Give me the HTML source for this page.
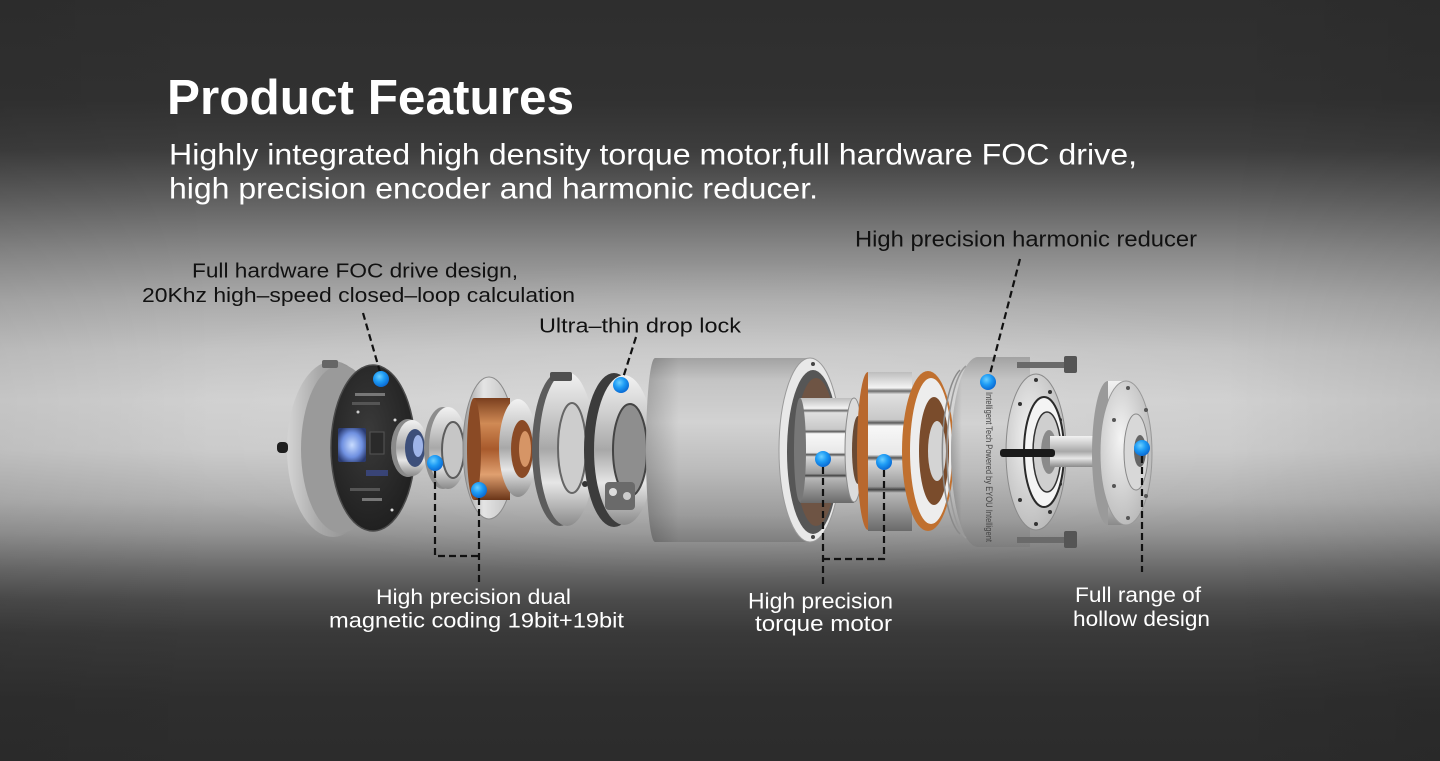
<!DOCTYPE html>
<html><head><meta charset="utf-8">
<style>
html,body{margin:0;padding:0;background:#2e2e2e;}
body{width:1440px;height:761px;overflow:hidden;}
svg{display:block;}
text{font-family:"Liberation Sans",sans-serif;}
</style></head>
<body>
<svg width="1440" height="761" viewBox="0 0 1440 761" xmlns="http://www.w3.org/2000/svg">
<defs>
  <linearGradient id="bg" x1="0" y1="0" x2="0" y2="1">
    <stop offset="0" stop-color="#2e2e2e"/>
    <stop offset="0.131" stop-color="#313131"/>
    <stop offset="0.197" stop-color="#3d3d3d"/>
    <stop offset="0.263" stop-color="#616161"/>
    <stop offset="0.329" stop-color="#888888"/>
    <stop offset="0.394" stop-color="#aaaaaa"/>
    <stop offset="0.46" stop-color="#c3c3c3"/>
    <stop offset="0.526" stop-color="#cfcfcf"/>
    <stop offset="0.591" stop-color="#c9c9c9"/>
    <stop offset="0.657" stop-color="#b0b0b0"/>
    <stop offset="0.70" stop-color="#939393"/>
    <stop offset="0.745" stop-color="#6c6c6c"/>
    <stop offset="0.788" stop-color="#4b4b4b"/>
    <stop offset="0.832" stop-color="#393939"/>
    <stop offset="0.92" stop-color="#2e2e2e"/>
    <stop offset="1" stop-color="#2c2c2c"/>
  </linearGradient>
  <radialGradient id="glow" cx="0.5" cy="0.5" r="0.5">
    <stop offset="0" stop-color="#ffffff" stop-opacity="0.22"/>
    <stop offset="1" stop-color="#ffffff" stop-opacity="0"/>
  </radialGradient>
  <linearGradient id="vign" x1="0" y1="0" x2="1" y2="0">
    <stop offset="0" stop-color="#000" stop-opacity="0.05"/>
    <stop offset="0.15" stop-color="#000" stop-opacity="0"/>
    <stop offset="0.85" stop-color="#000" stop-opacity="0"/>
    <stop offset="1" stop-color="#000" stop-opacity="0.07"/>
  </linearGradient>
  <linearGradient id="silverV" x1="0" y1="0" x2="0" y2="1">
    <stop offset="0" stop-color="#f2f2f2"/>
    <stop offset="0.25" stop-color="#cfcfcf"/>
    <stop offset="0.5" stop-color="#a8a8a8"/>
    <stop offset="0.72" stop-color="#e6e6e6"/>
    <stop offset="1" stop-color="#8a8a8a"/>
  </linearGradient>
  <linearGradient id="silverH" x1="0" y1="0" x2="1" y2="0">
    <stop offset="0" stop-color="#9a9a9a"/>
    <stop offset="0.4" stop-color="#e4e4e4"/>
    <stop offset="1" stop-color="#bdbdbd"/>
  </linearGradient>
  <linearGradient id="hous" x1="0" y1="0" x2="1" y2="0">
    <stop offset="0" stop-color="#d4d4d4"/>
    <stop offset="0.35" stop-color="#a9a9a9"/>
    <stop offset="1" stop-color="#7e7e7e"/>
  </linearGradient>
  <linearGradient id="cyl" x1="0" y1="0" x2="0" y2="1">
    <stop offset="0" stop-color="#a2a2a2"/>
    <stop offset="0.12" stop-color="#c4c4c4"/>
    <stop offset="0.35" stop-color="#d2d2d2"/>
    <stop offset="0.6" stop-color="#bcbcbc"/>
    <stop offset="0.85" stop-color="#9c9c9c"/>
    <stop offset="1" stop-color="#7e7e7e"/>
  </linearGradient>
  <linearGradient id="cylL" x1="0" y1="0" x2="1" y2="0">
    <stop offset="0" stop-color="#000" stop-opacity="0.18"/>
    <stop offset="0.2" stop-color="#000" stop-opacity="0"/>
  </linearGradient>
  <linearGradient id="copper" x1="0" y1="0" x2="0" y2="1">
    <stop offset="0" stop-color="#7a3f1e"/>
    <stop offset="0.25" stop-color="#d08a55"/>
    <stop offset="0.5" stop-color="#a85a2c"/>
    <stop offset="0.75" stop-color="#e0a070"/>
    <stop offset="1" stop-color="#6a3518"/>
  </linearGradient>
  <linearGradient id="stripe" x1="0" y1="0" x2="0" y2="1">
    <stop offset="0" stop-color="#bdbdbd"/>
    <stop offset="0.1" stop-color="#f4f4f4"/>
    <stop offset="0.12" stop-color="#6a6a6a"/>
    <stop offset="0.14" stop-color="#e0e0e0"/>
    <stop offset="0.3" stop-color="#c8c8c8"/>
    <stop offset="0.32" stop-color="#5a5a5a"/>
    <stop offset="0.34" stop-color="#f8f8f8"/>
    <stop offset="0.52" stop-color="#e8e8e8"/>
    <stop offset="0.54" stop-color="#555"/>
    <stop offset="0.56" stop-color="#d8d8d8"/>
    <stop offset="0.72" stop-color="#9a9a9a"/>
    <stop offset="0.74" stop-color="#444"/>
    <stop offset="0.76" stop-color="#b8b8b8"/>
    <stop offset="0.9" stop-color="#8a8a8a"/>
    <stop offset="1" stop-color="#6a6a6a"/>
  </linearGradient>
  <radialGradient id="pcb" cx="0.45" cy="0.4" r="0.7">
    <stop offset="0" stop-color="#3a3a3a"/>
    <stop offset="1" stop-color="#1c1c1c"/>
  </radialGradient>
  <radialGradient id="chip" cx="0.5" cy="0.5" r="0.6">
    <stop offset="0" stop-color="#c8dcff"/>
    <stop offset="0.6" stop-color="#6f90e0"/>
    <stop offset="1" stop-color="#2a3a70"/>
  </radialGradient>
  <radialGradient id="dot" cx="0.4" cy="0.35" r="0.65">
    <stop offset="0" stop-color="#6ccfff"/>
    <stop offset="0.5" stop-color="#1e9cf5"/>
    <stop offset="1" stop-color="#0a6bd4"/>
  </radialGradient>
  <radialGradient id="face" cx="0.4" cy="0.4" r="0.7">
    <stop offset="0" stop-color="#f4f4f4"/>
    <stop offset="1" stop-color="#b4b4b4"/>
  </radialGradient>
</defs>

<!-- background -->
<rect width="1440" height="761" fill="url(#bg)"/>
<ellipse cx="720" cy="420" rx="620" ry="160" fill="url(#glow)"/>
<rect width="1440" height="761" fill="url(#vign)"/>

<!-- ===== Left end cap with PCB ===== -->
<ellipse cx="333" cy="449" rx="46" ry="88" fill="url(#hous)"/>
<ellipse cx="341" cy="449" rx="40" ry="84" fill="#9a9a9a"/>
<rect x="322" y="360" width="16" height="8" rx="2" fill="#666"/>
<rect x="277" y="442" width="11" height="11" rx="4" fill="#1e1e1e"/>
<ellipse cx="373" cy="448" rx="42" ry="83" fill="url(#pcb)" stroke="#4a4a4a" stroke-width="1.5"/>
<rect x="338" y="428" width="28" height="34" rx="2" fill="url(#chip)"/>
<rect x="370" y="432" width="14" height="22" fill="#2a2a2a" stroke="#555" stroke-width="1"/>
<rect x="355" y="393" width="30" height="3" fill="#777"/>
<rect x="352" y="402" width="28" height="3" fill="#555"/>
<rect x="362" y="498" width="20" height="3" fill="#777"/>
<rect x="350" y="488" width="30" height="3" fill="#555"/>
<rect x="366" y="470" width="22" height="6" fill="#3c4a88" opacity="0.8"/>
<circle cx="395" cy="420" r="1.5" fill="#ddd"/>
<circle cx="392" cy="510" r="1.5" fill="#ddd"/>
<circle cx="358" cy="412" r="1.5" fill="#ccc"/>

<!-- small bearing -->
<ellipse cx="408" cy="448" rx="17" ry="29" fill="#8a8a8a"/>
<ellipse cx="412" cy="448" rx="16" ry="28" fill="url(#silverV)"/>
<ellipse cx="415" cy="448" rx="10" ry="19" fill="#3d4f7a"/>
<ellipse cx="418" cy="446" rx="5" ry="11" fill="#9fb4e8"/>

<!-- ring 2 -->
<ellipse cx="443" cy="448" rx="19" ry="41" fill="#8c8c8c"/>
<ellipse cx="448" cy="448" rx="19" ry="41" fill="url(#silverV)"/>
<ellipse cx="453" cy="450" rx="11" ry="28" fill="#c6c6c6" stroke="#5c5c5c" stroke-width="2"/>

<!-- copper encoder -->
<ellipse cx="489" cy="448" rx="26" ry="71" fill="url(#silverH)" stroke="#8a8a8a" stroke-width="1"/>
<rect x="474" y="398" width="36" height="102" fill="url(#copper)"/>
<ellipse cx="474" cy="449" rx="7" ry="51" fill="#8a4a25"/>
<ellipse cx="518" cy="448" rx="19" ry="49" fill="url(#silverV)"/>
<ellipse cx="522" cy="449" rx="11" ry="29" fill="#8a4a25"/>
<ellipse cx="525" cy="449" rx="6" ry="18" fill="#d69566"/>

<!-- flange ring -->
<ellipse cx="560" cy="449" rx="28" ry="77" fill="#5c5c5c"/>
<ellipse cx="567" cy="449" rx="28" ry="77" fill="url(#silverV)"/>
<ellipse cx="572" cy="448" rx="14" ry="45" fill="#cdcdcd" stroke="#666" stroke-width="2"/>
<rect x="550" y="372" width="22" height="9" rx="2" fill="#505050"/>
<circle cx="585" cy="484" r="3" fill="#333"/>

<!-- brake / drop lock -->
<ellipse cx="614" cy="450" rx="30" ry="77" fill="#3c3c3c"/>
<ellipse cx="624" cy="450" rx="30" ry="75" fill="url(#silverV)"/>
<ellipse cx="630" cy="450" rx="17" ry="46" fill="#8e8e8e" stroke="#444" stroke-width="2"/>
<rect x="605" y="482" width="30" height="28" rx="4" fill="#6a6a6a"/>
<circle cx="613" cy="492" r="4" fill="#ddd"/>
<circle cx="627" cy="496" r="4" fill="#ccc"/>

<!-- big cylinder housing -->
<path d="M655 358 L810 358 L810 542 L655 542 A9 92 0 0 1 655 358 Z" fill="url(#cyl)"/>
<path d="M655 358 L810 358 L810 542 L655 542 A9 92 0 0 1 655 358 Z" fill="url(#cylL)"/>
<ellipse cx="810" cy="450" rx="31" ry="92" fill="#e8e8e8" stroke="#9a9a9a" stroke-width="1"/>
<ellipse cx="813" cy="452" rx="26" ry="82" fill="#565656"/>
<ellipse cx="816" cy="452" rx="21" ry="74" fill="#6e5444"/>
<circle cx="813" cy="364" r="2" fill="#444"/>
<circle cx="813" cy="537" r="2" fill="#444"/>

<!-- rotor -->
<rect x="800" y="398" width="54" height="105" fill="url(#stripe)"/>
<ellipse cx="800" cy="450" rx="6" ry="52" fill="#777"/>
<ellipse cx="854" cy="450" rx="9" ry="52" fill="#dcdcdc" stroke="#8a8a8a" stroke-width="1"/>
<ellipse cx="858" cy="450" rx="6" ry="34" fill="#6a4a34"/>

<!-- stator -->
<ellipse cx="868" cy="451" rx="11" ry="79" fill="#b8682e"/>
<rect x="868" y="372" width="44" height="159" fill="url(#stripe)"/>
<ellipse cx="928" cy="451" rx="26" ry="80" fill="#c0702f"/>
<ellipse cx="931" cy="451" rx="21" ry="73" fill="#ededed"/>
<ellipse cx="934" cy="451" rx="15" ry="54" fill="#7a4c2c"/>
<ellipse cx="937" cy="451" rx="9" ry="30" fill="#d4d4d4"/>

<!-- harmonic reducer -->
<path d="M978 357 L1030 357 L1030 547 L978 547 A27 95 0 0 1 978 357 Z" fill="url(#cyl)"/>
<ellipse cx="978" cy="452" rx="27" ry="95" fill="url(#cyl)"/>
<ellipse cx="978" cy="452" rx="27" ry="95" fill="url(#cylL)"/>
<path d="M960 370 A24 85 0 0 0 960 534" fill="none" stroke="#8a8a8a" stroke-width="1.5"/>
<path d="M966 366 A24 88 0 0 0 966 538" fill="none" stroke="#9a9a9a" stroke-width="1.5"/>
<text transform="translate(986,392) rotate(90)" font-size="9.5" fill="#444" textLength="150" lengthAdjust="spacingAndGlyphs">Intelligent Tech  Powered by EYOU Intelligent</text>
<!-- bolts -->
<rect x="1017" y="362" width="50" height="6" fill="#6a6a6a"/>
<rect x="1064" y="356" width="13" height="17" rx="2" fill="#555"/>
<rect x="1017" y="537" width="50" height="6" fill="#6a6a6a"/>
<rect x="1064" y="531" width="13" height="17" rx="2" fill="#555"/>
<ellipse cx="1036" cy="452" rx="30" ry="78" fill="url(#face)" stroke="#8a8a8a" stroke-width="1"/>
<g fill="#333">
  <circle cx="1036" cy="380" r="2"/><circle cx="1050" cy="392" r="2"/><circle cx="1060" cy="420" r="2"/>
  <circle cx="1063" cy="452" r="2"/><circle cx="1060" cy="484" r="2"/><circle cx="1050" cy="512" r="2"/>
  <circle cx="1036" cy="524" r="2"/><circle cx="1020" cy="500" r="2"/><circle cx="1020" cy="404" r="2"/>
</g>
<ellipse cx="1044" cy="452" rx="20" ry="55" fill="#f4f4f4" stroke="#2a2a2a" stroke-width="2"/>
<ellipse cx="1047" cy="452" rx="14" ry="40" fill="#cfcfcf" stroke="#333" stroke-width="1.5"/>
<ellipse cx="1049" cy="452" rx="8" ry="22" fill="#8a8a8a"/>
<!-- shaft -->
<rect x="1050" y="436" width="46" height="31" fill="url(#silverV)"/>
<rect x="1000" y="449" width="55" height="8" rx="3" fill="#1a1a1a"/>

<!-- hollow flange -->
<ellipse cx="1108" cy="453" rx="16" ry="72" fill="#9a9a9a"/>
<rect x="1108" y="381" width="18" height="144" fill="url(#silverV)"/>
<ellipse cx="1126" cy="453" rx="26" ry="72" fill="url(#face)" stroke="#999" stroke-width="1"/>
<ellipse cx="1136" cy="452" rx="12" ry="38" fill="#d8d8d8" stroke="#888" stroke-width="1"/>
<ellipse cx="1140" cy="451" rx="6" ry="16" fill="#666"/>
<g fill="#555">
  <circle cx="1128" cy="388" r="2"/><circle cx="1114" cy="420" r="2"/><circle cx="1114" cy="486" r="2"/>
  <circle cx="1128" cy="518" r="2"/><circle cx="1146" cy="410" r="2"/><circle cx="1146" cy="496" r="2"/>
</g>

<!-- ===== dashed leader lines ===== -->
<g stroke="#111" stroke-width="2.2" stroke-dasharray="7 4" fill="none">
  <line x1="363" y1="313" x2="380" y2="372"/>
  <line x1="636" y1="337" x2="623" y2="378"/>
  <line x1="1020" y1="259" x2="990" y2="374"/>
  <polyline points="435,471 435,556 479,556"/>
  <line x1="479" y1="498" x2="479" y2="584"/>
  <line x1="823" y1="467" x2="823" y2="584"/>
  <polyline points="884,470 884,559 823,559"/>
  <line x1="1142" y1="456" x2="1142" y2="572"/>
</g>

<!-- blue dots -->
<g fill="url(#dot)">
  <circle cx="381" cy="379" r="8"/>
  <circle cx="621" cy="385" r="8"/>
  <circle cx="988" cy="382" r="8"/>
  <circle cx="435" cy="463" r="8"/>
  <circle cx="479" cy="490" r="8"/>
  <circle cx="823" cy="459" r="8"/>
  <circle cx="884" cy="462" r="8"/>
  <circle cx="1142" cy="448" r="8"/>
</g>

<!-- ===== Text ===== -->
<text x="167" y="114" font-size="49" font-weight="bold" fill="#ffffff" textLength="407" lengthAdjust="spacingAndGlyphs">Product Features</text>
<text x="169" y="164.5" font-size="30" fill="#ffffff" textLength="968" lengthAdjust="spacingAndGlyphs">Highly integrated high density torque motor,full hardware FOC drive,</text>
<text x="169" y="198.5" font-size="30" fill="#ffffff" textLength="649" lengthAdjust="spacingAndGlyphs">high precision encoder and harmonic reducer.</text>

<text x="192" y="277.5" font-size="20" fill="#111" textLength="326" lengthAdjust="spacingAndGlyphs">Full hardware FOC drive design,</text>
<text x="142" y="302" font-size="20" fill="#111" textLength="433" lengthAdjust="spacingAndGlyphs">20Khz high–speed closed–loop calculation</text>
<text x="539" y="332.5" font-size="20.5" fill="#111" textLength="202" lengthAdjust="spacingAndGlyphs">Ultra–thin drop lock</text>
<text x="855" y="246.5" font-size="22" fill="#111" textLength="342" lengthAdjust="spacingAndGlyphs">High precision harmonic reducer</text>

<text x="376" y="604" font-size="21" fill="#ffffff" textLength="195" lengthAdjust="spacingAndGlyphs">High precision dual</text>
<text x="329" y="627.5" font-size="21" fill="#ffffff" textLength="295" lengthAdjust="spacingAndGlyphs">magnetic coding 19bit+19bit</text>
<text x="748" y="608.5" font-size="22.5" fill="#ffffff" textLength="145" lengthAdjust="spacingAndGlyphs">High precision</text>
<text x="755" y="631" font-size="22.5" fill="#ffffff" textLength="137" lengthAdjust="spacingAndGlyphs">torque motor</text>
<text x="1075" y="602" font-size="21" fill="#ffffff" textLength="126" lengthAdjust="spacingAndGlyphs">Full range of</text>
<text x="1073" y="626" font-size="21" fill="#ffffff" textLength="137" lengthAdjust="spacingAndGlyphs">hollow design</text>
</svg>
</body></html>
